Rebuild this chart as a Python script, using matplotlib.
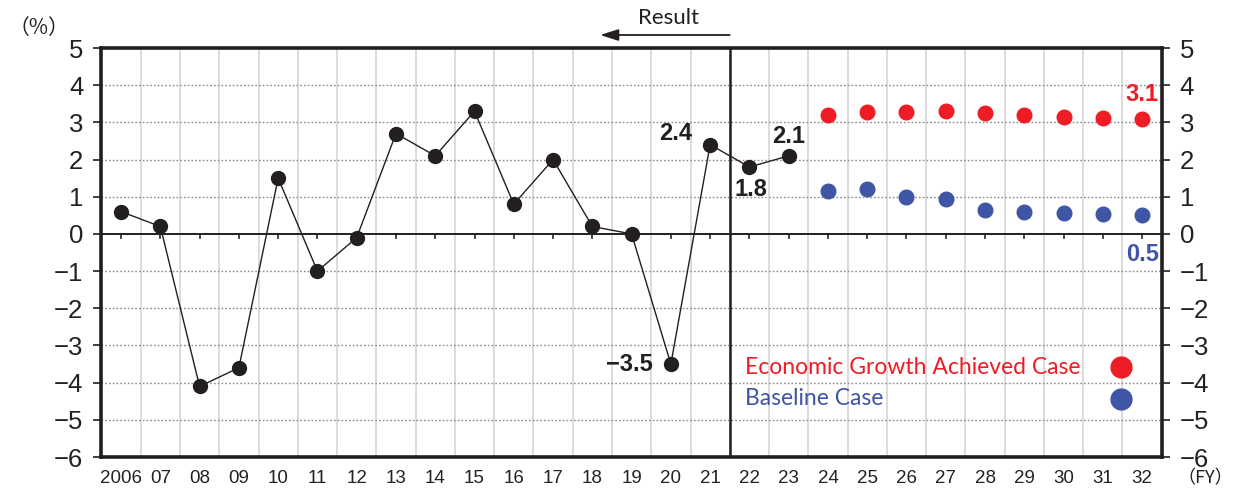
import matplotlib
matplotlib.use("Agg")
import matplotlib.pyplot as plt
import numpy as np

# Fiscal-year categories
years = ["2006", "07", "08", "09", "10", "11", "12", "13", "14", "15", "16", "17",
         "18", "19", "20", "21", "22", "23", "24", "25", "26", "27", "28", "29",
         "30", "31", "32"]

# Real GDP growth FY2006-FY2023 (%); results through FY2021
result_vals = [0.6, 0.2, -4.1, -3.6, 1.5, -1.0, -0.1, 2.7, 2.1, 3.3, 0.8, 2.0,
               0.2, 0.0, -3.5, 2.4, 1.8, 2.1]
last_result_year = "21"

# Projections FY2024-FY2032 (%)
growth_vals = [3.2, 3.27, 3.27, 3.3, 3.25, 3.2, 3.15, 3.12, 3.1]
baseline_vals = [1.15, 1.2, 1.0, 0.95, 0.65, 0.6, 0.57, 0.53, 0.5]

yticks = [5, 4, 3, 2, 1, 0, -1, -2, -3, -4, -5, -6]

RED = "#EE1C25"
BLUE = "#3F55A5"
DARK = "#231F20"

num_font = ["Liberation Sans Narrow", "Liberation Sans", "DejaVu Sans"]
txt_font = ["Lato", "Noto Sans", "DejaVu Sans"]
cjk_font = ["Noto Sans CJK JP", "DejaVu Sans"]

fig = plt.figure(figsize=(12.4, 4.9), dpi=100)
ax = fig.add_axes([0.0818, 0.0673, 0.9369 - 0.0818, 0.902 - 0.0673])

x_all = np.arange(len(years))
x_res = x_all[:len(result_vals)]
x_proj = x_all[len(result_vals):]
x_div = years.index(last_result_year) + 0.5

ax.set_xlim(-0.5, len(years) - 0.5)
ax.set_ylim(-6, 5)

# vertical grid at category boundaries
for b in np.arange(0.5, len(years) - 0.5, 1.0):
    ax.axvline(b, color="#D9D9D9", lw=1.3, zorder=0)
# horizontal dotted grid
for y in yticks:
    if y not in (5, -6, 0):
        ax.axhline(y, color="#8C8C8C", lw=1.0, ls=(0, (1.2, 1.5)), zorder=0.5)

# zero line with small category ticks
ax.axhline(0, color=DARK, lw=1.4, zorder=1)
for xi in x_all:
    ax.plot([xi, xi], [0, -0.12], color=DARK, lw=1.2, zorder=1)

# divider between results and estimates/projections
ax.axvline(x_div, color=DARK, lw=1.8, zorder=2)

# series
ax.plot(x_res, result_vals, color=DARK, lw=1.0, marker="o", ms=10,
        mfc=DARK, mec=DARK, zorder=4)
ax.plot(x_proj, growth_vals, ls="none", marker="o", ms=10.5, mfc=RED, mec=RED, zorder=4)
ax.plot(x_proj, baseline_vals, ls="none", marker="o", ms=10.5, mfc=BLUE, mec=BLUE, zorder=4)

# spines
for s in ax.spines.values():
    s.set_linewidth(2.6)
    s.set_color(DARK)
    s.set_zorder(5)

ax.set_yticks(yticks)
ax.set_yticklabels([("\u2212%d" % -v) if v < 0 else str(v) for v in yticks])
ax.tick_params(axis="y", which="both", left=True, right=True, labelleft=True,
               labelright=True, direction="out", length=6, width=1.2,
               color=DARK, labelsize=18.5, pad=7, labelcolor="#222222")
for lbl in ax.get_yticklabels():
    lbl.set_family(num_font)
ax.set_xticks(x_all)
ax.set_xticklabels(years)
ax.tick_params(axis="x", length=0, labelsize=13.5, pad=9, labelcolor="#222222")
for lbl in ax.get_xticklabels():
    lbl.set_family(num_font)

# value labels
lab_kw = dict(fontsize=17, fontweight="bold", family=num_font, zorder=6)
ax.text(x_res[15] - 0.45, result_vals[15] + 0.0, f"{result_vals[15]:.1f}",
        ha="right", va="bottom", color=DARK, **lab_kw)
ax.text(x_res[17], result_vals[17] + 0.2, f"{result_vals[17]:.1f}",
        ha="center", va="bottom", color=DARK, **lab_kw)
ax.text(x_res[16] + 0.05, result_vals[16] - 0.3, f"{result_vals[16]:.1f}",
        ha="center", va="top", color=DARK, **lab_kw)
ax.text(x_res[14] - 0.45, result_vals[14], "\u2212%.1f" % -result_vals[14],
        ha="right", va="center", color=DARK, **lab_kw)
ax.text(x_proj[-1], growth_vals[-1] + 0.35, f"{growth_vals[-1]:.1f}",
        ha="center", va="bottom", color=RED, **lab_kw)
ax.text(x_proj[-1], baseline_vals[-1] - 0.75, f"{baseline_vals[-1]:.1f}",
        ha="center", va="top", color=BLUE, **lab_kw)

# legend drawn as text + markers
ax.text(15.9, -3.58, "Economic Growth Achieved Case", color=RED, fontsize=16.5,
        family=txt_font, va="center", ha="left", zorder=6)
ax.text(15.9, -4.42, "Baseline Case", color=BLUE, fontsize=16.5,
        family=txt_font, va="center", ha="left", zorder=6)
ax.plot([25.45], [-3.58], ls="none", marker="o", ms=15, mfc=RED, mec=RED, zorder=6)
ax.plot([25.45], [-4.45], ls="none", marker="o", ms=15, mfc=BLUE, mec=BLUE, zorder=6)

# "Result" header with leftward arrow above the plot
ax.annotate("", xy=(12.2, 5.35), xytext=(x_div, 5.35), xycoords="data",
            annotation_clip=False,
            arrowprops=dict(arrowstyle="-|>,head_length=1.1,head_width=0.35",
                            color=DARK, lw=1.3, shrinkA=0, shrinkB=0))
ax.text(13.93, 5.8, "Result", ha="center", va="center", fontsize=16,
        family=txt_font, color=DARK, clip_on=False)

# unit labels
fig.text(0.0315, 0.942, "\uff08%\uff09", ha="center", va="center", fontsize=15,
         family=cjk_font, color="#222222")
fig.text(0.972, 0.006, "\uff08FY\uff09", ha="center", va="bottom", fontsize=13,
         family=cjk_font, color="#222222")

fig.savefig("out.png", dpi=100)
